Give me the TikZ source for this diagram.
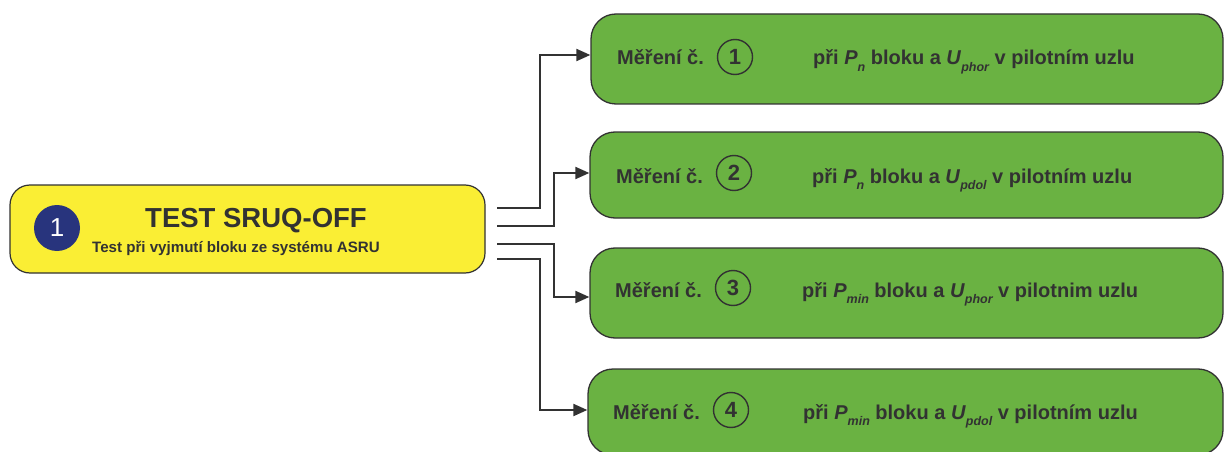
\documentclass[tikz,border=0pt]{standalone}
\usepackage{fontspec}
\setmainfont{Liberation Sans}
\usetikzlibrary{arrows.meta}
\definecolor{ylw}{RGB}{250,238,52}
\definecolor{grn}{RGB}{106,178,66}
\definecolor{navy}{RGB}{40,52,125}
\definecolor{ink}{RGB}{50,50,50}
\newcommand\sbs[1]{\raisebox{-0.3em}{\fontsize{12.5}{13}\selectfont\itshape #1}}
\tikzset{
  mainbox/.style={draw=ink, line width=1.2pt, fill=ylw, rounded corners=20pt, minimum width=475pt, minimum height=88pt},
  measbox/.style={draw=ink, line width=1.3pt, fill=grn, rounded corners=25pt},
  conn/.style={draw=ink, line width=2pt, -{Triangle[length=14pt,width=12pt]}},
  lbl/.style={font=\bfseries\fontsize{20}{22}\selectfont, text=ink, anchor=base west, inner sep=0pt},
  num/.style={circle, draw=ink, line width=1.4pt, minimum size=35pt, inner sep=0pt, font=\bfseries\fontsize{22}{24}\selectfont, text=ink},
}
\begin{document}
\begin{tikzpicture}[x=1pt,y=-1pt]
\useasboundingbox (0,0) rectangle (1227,452);
% main box
\node[mainbox] (main) at (247.5,229) {};
\node[circle, fill=navy, minimum size=46pt, inner sep=0pt, text=white, font=\fontsize{26}{28}\selectfont] (one) at (57,228) {1};
\node[font=\bfseries\fontsize{27.5}{30}\selectfont, text=ink, anchor=base, inner sep=0pt] (title) at (256,227) {TEST SRUQ-OFF};
\node[font=\bfseries\fontsize{15.1}{17}\selectfont, text=ink, anchor=base, inner sep=0pt] (sub) at (236,252) {Test při vyjmutí bloku ze systému ASRU};
% measurement boxes
\node[measbox, minimum width=632pt, minimum height=90pt] (b1) at (907,59) {};
\node[measbox, minimum width=633pt, minimum height=86pt] (b2) at (906.5,175) {};
\node[measbox, minimum width=633pt, minimum height=90pt] (b3) at (906.5,293) {};
\node[measbox, minimum width=635pt, minimum height=86pt] (b4) at (905.5,412) {};
% texts
\node[lbl] (m1) at (617,65) {Měření č.};
\node[num] (c1) at (735,57) {1};
\node[lbl] (t1) at (813,65) {při \textit{P}\sbs{n} bloku a \textit{U}\sbs{phor} v pilotním uzlu};
\node[lbl] (m2) at (616,183) {Měření č.};
\node[num] (c2) at (734,173) {2};
\node[lbl] (t2) at (812,183) {při \textit{P}\sbs{n} bloku a \textit{U}\sbs{pdol} v pilotním uzlu};
\node[lbl] (m3) at (615,297) {Měření č.};
\node[num] (c3) at (733,288) {3};
\node[lbl] (t3) at (802,297) {při \textit{P}\sbs{min} bloku a \textit{U}\sbs{phor} v pilotnim uzlu};
\node[lbl] (m4) at (613,419) {Měření č.};
\node[num] (c4) at (731,410) {4};
\node[lbl] (t4) at (803,419) {při \textit{P}\sbs{min} bloku a \textit{U}\sbs{pdol} v pilotním uzlu};
% connectors
\coordinate (s1) at (497,208);
\coordinate (s2) at (497,226);
\coordinate (s3) at (497,244);
\coordinate (s4) at (497,259);
\draw[conn] (s1) -- (540,208) |- ([yshift=4pt]b1.west);
\draw[conn] (s2) -- (554,226) |- ([yshift=2pt]b2.west);
\draw[conn] (s3) -- (554,244) |- ([yshift=-4pt]b3.west);
\draw[conn] (s4) -- (540,259) |- ([yshift=2pt]b4.west);
\end{tikzpicture}
\end{document}
